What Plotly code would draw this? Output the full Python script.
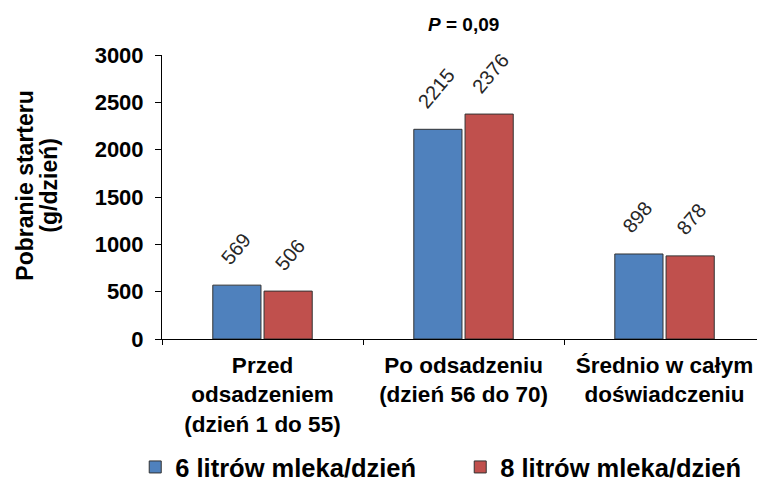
import plotly.graph_objects as go

categories = ["Przed<br>odsadzeniem<br>(dzień 1 do 55)",
              "Po odsadzeniu<br>(dzień 56 do 70)",
              "Średnio w całym<br>doświadczeniu"]
series_names = ["6 litrów mleka/dzień", "8 litrów mleka/dzień"]
values_6l = [569, 2215, 898]
values_8l = [506, 2376, 878]
y_ticks = [0, 500, 1000, 1500, 2000, 2500, 3000]
y_title_lines = ["Pobranie starteru", "(g/dzień)"]

FONT = "Arial, Liberation Sans, sans-serif"
colors = ["#4F81BD", "#C0504D"]
label_xshift = [-27, 27]

fig = go.Figure()
annotations = []
for i, (name, vals, col) in enumerate(zip(series_names, [values_6l, values_8l], colors)):
    fig.add_trace(go.Bar(
        x=categories, y=vals, name=name,
        marker=dict(color=col, line=dict(color="#333333", width=1)),
    ))
    for c, v in zip(categories, vals):
        annotations.append(dict(text=str(v), x=c, y=v, xref="x", yref="y",
                                xanchor="center", yanchor="bottom", xshift=label_xshift[i],
                                yshift=14, textangle=-50, showarrow=False,
                                font=dict(family=FONT, size=20, color="#262626")))

annotations.append(dict(text="<i>P</i> = 0,09", x=categories[1], y=1.0, xref="x", yref="paper",
                        yanchor="middle", yshift=31, showarrow=False,
                        font=dict(family=FONT, size=19, color="black", weight="bold")))
for txt, xs in zip(y_title_lines, [-137, -113]):
    annotations.append(dict(text=txt, x=0, y=0.54, xref="paper", yref="paper",
                            xanchor="center", yanchor="middle", xshift=xs, textangle=-90,
                            showarrow=False,
                            font=dict(family=FONT, size=23, color="black", weight="bold")))

fig.update_layout(
    width=757, height=486,
    margin=dict(l=162, r=0, t=55, b=147, autoexpand=False),
    paper_bgcolor="white", plot_bgcolor="white",
    barmode="group", bargap=0.49, bargroupgap=0.06,
    font=dict(family=FONT, color="black"),
    showlegend=True,
    legend=dict(orientation="h", x=-0.045, xanchor="left", y=-0.452, yanchor="middle",
                font=dict(family=FONT, size=25.5, color="black", weight="bold"),
                entrywidth=280, itemwidth=30),
    annotations=annotations,
)
fig.update_yaxes(range=[0, 3000], tickvals=y_ticks, showgrid=False, zeroline=False,
                 showline=True, linecolor="black", linewidth=1, automargin=False,
                 ticks="outside", ticklen=6, tickcolor="black", ticklabelstandoff=7,
                 tickfont=dict(family=FONT, size=22, color="black", weight="bold"))
fig.update_xaxes(range=[-0.5, 2.46], showgrid=False, showline=True, linecolor="black",
                 linewidth=1, automargin=False,
                 ticks="outside", tickson="boundaries", ticklen=5, tickcolor="black",
                 ticklabelstandoff=6,
                 tickfont=dict(family=FONT, size=22.5, color="black", weight="bold"))

fig.write_html("out.html", config={"displayModeBar": False},
               post_script="document.body.style.margin='0';document.body.style.overflow='hidden';")
